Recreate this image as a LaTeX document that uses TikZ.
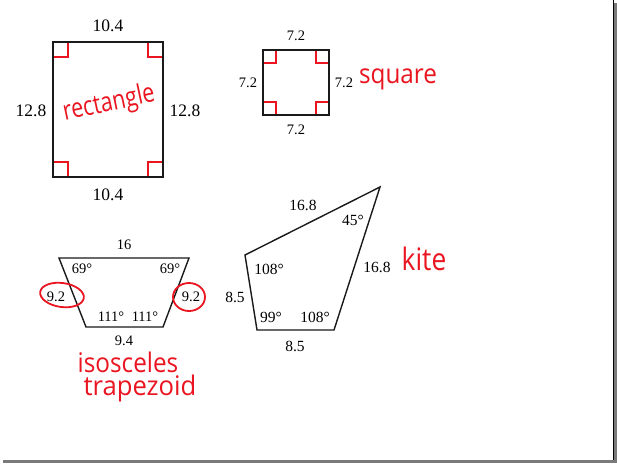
\documentclass[tikz,border=0pt]{standalone}
\usepackage{fontspec}
\usepackage{graphicx}
\setmainfont{Liberation Serif}
\newfontfamily\handfont{Open Sans}
\usetikzlibrary{positioning}
\definecolor{ink}{HTML}{1A1A1A}
\definecolor{pen}{HTML}{EA1520}
\definecolor{frame}{HTML}{7A7A7A}

\begin{document}
\begin{tikzpicture}[x=1pt,y=-1pt,
  outline/.style={ink,line width=1.4pt,line join=miter},
  cornermark/.style={pen,line width=1.1pt},
  penline/.style={pen,line width=1.8pt},
  lenbig/.style={inner sep=0pt,font=\fontsize{17.5}{20}\selectfont},
  lenmid/.style={inner sep=0pt,font=\fontsize{15.5}{18}\selectfont},
  lensmall/.style={inner sep=0pt,font=\fontsize{14.5}{17}\selectfont},
  handword/.style={pen,inner sep=0pt,font=\handfont\fontsize{27}{30}\selectfont}]
% page and frame
\useasboundingbox (0,0) rectangle (617,463);
\fill[white] (0,0) rectangle (617,463);
\fill[frame] (614,3) rectangle (617,463);
\fill[frame] (3,460) rectangle (617,463);
\draw[black,line width=0.6pt] (613.5,0) -- (613.5,460);

% rectangle
\coordinate (ra) at (53,42);
\coordinate (rb) at (163,42);
\coordinate (rc) at (163,177);
\coordinate (rd) at (53,177);
\draw[cornermark] (53,57) -| (68,42);
\draw[cornermark] (148,42) |- (163,57);
\draw[cornermark] (53,162) -| (68,177);
\draw[cornermark] (148,177) |- (163,162);
\draw[outline] (ra) -- (rb) -- (rc) -- (rd) -- cycle;
\node[lenbig] (rtop) at (108,26) {10.4};
\node[lenbig] (rbot) at (108,195) {10.4};
\node[lenbig] (rleft) at (31,111) {12.8};
\node[lenbig] (rright) at (185,111) {12.8};
\node[handword,rotate=12] (rname) at (109,104) {\scalebox{0.8}[1]{rectangle}};

% square
\coordinate (sa) at (263,50);
\coordinate (sb) at (329,50);
\coordinate (sc) at (329,115);
\coordinate (sd) at (263,115);
\draw[cornermark] (263,63) -| (276,50);
\draw[cornermark] (316,50) |- (329,63);
\draw[cornermark] (263,102) -| (276,115);
\draw[cornermark] (316,115) |- (329,102);
\draw[outline] (sa) -- (sb) -- (sc) -- (sd) -- cycle;
\node[lensmall] (stop) at (296,36) {7.2};
\node[lensmall] (sbot) at (296,130) {7.2};
\node[lensmall] (sleft) at (248,83) {7.2};
\node[lensmall] (sright) at (344,83) {7.2};
\node[handword] (sname) at (398,79) {\scalebox{0.9}[1]{square}};

% isosceles trapezoid
\coordinate (ta) at (59,258);
\coordinate (tb) at (189,258);
\coordinate (tc) at (163,327);
\coordinate (td) at (86,327);
\draw[outline] (ta) -- (tb) -- (tc) -- (td) -- cycle;
\node[lensmall] (ttop) at (124,245) {16};
\node[lensmall] (tbot) at (124,341) {9.4};
\node[lensmall] (tleft) at (56,297) {9.2};
\node[lensmall] (tright) at (191,297) {9.2};
\node[lensmall] (tang1) at (82,269) {69°};
\node[lensmall] (tang2) at (170,269) {69°};
\node[lensmall] (tang3) at (111,317) {111°};
\node[lensmall] (tang4) at (145,317) {111°};
\draw[penline,rotate around={-8:(62,295)}] (62,295) ellipse [x radius=22, y radius=12];
\draw[penline] (189,297) ellipse [x radius=16, y radius=14];
\node[handword] (tname1) at (128,362) {\scalebox{0.9}[1]{isosceles}};
\node[handword] (tname2) at (140,388) {\scalebox{0.95}[1]{trapezoid}};

% kite
\coordinate (ka) at (380,187);
\coordinate (kb) at (334,330);
\coordinate (kc) at (257,330);
\coordinate (kd) at (245,255);
\draw[outline] (ka) -- (kb) -- (kc) -- (kd) -- cycle;
\node[lenmid] (ktop) at (303,205) {16.8};
\node[lenmid] (kright) at (377,267) {16.8};
\node[lenmid] (kleft) at (235,297) {8.5};
\node[lenmid] (kbot) at (295,346) {8.5};
\node[lenmid] (kang1) at (353,220) {45°};
\node[lenmid] (kang2) at (269,269) {108°};
\node[lenmid] (kang3) at (271,317) {99°};
\node[lenmid] (kang4) at (315,317) {108°};
\node[handword,font=\handfont\fontsize{31}{34}\selectfont] (kname) at (424,259) {\scalebox{0.85}[1]{kite}};
\end{tikzpicture}
\end{document}
